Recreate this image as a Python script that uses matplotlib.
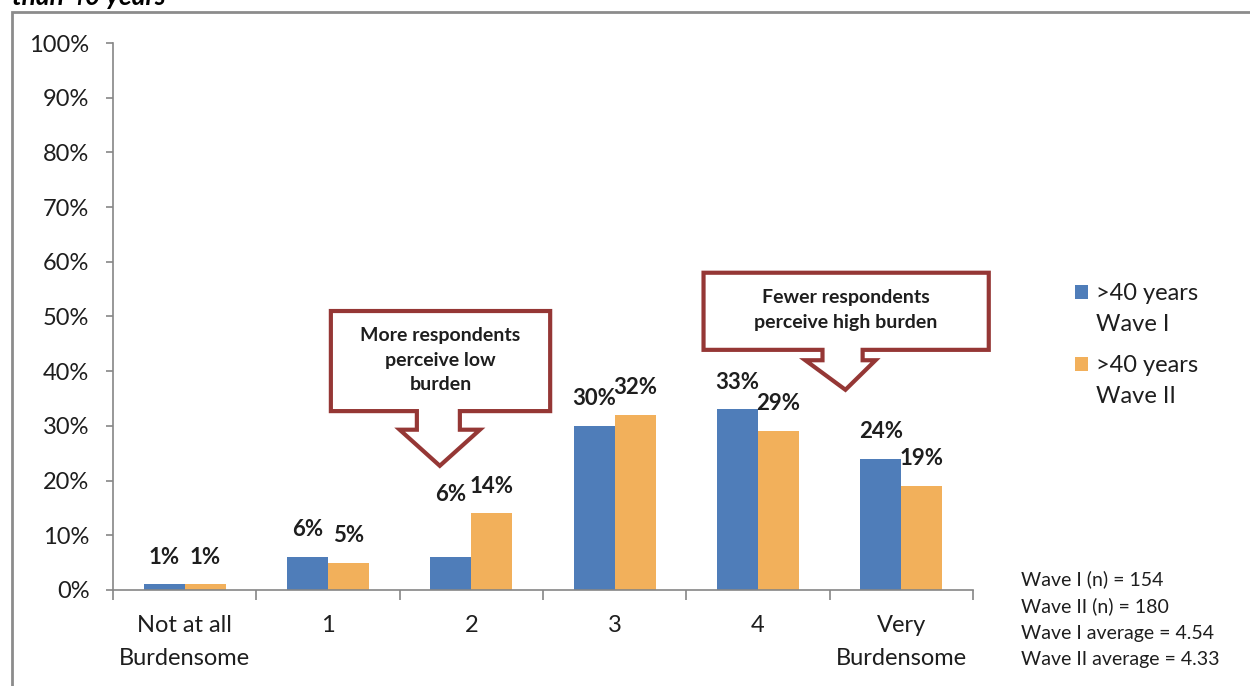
import matplotlib.pyplot as plt
import numpy as np
from matplotlib.patches import Polygon, Rectangle

plt.rcParams['font.family'] = ['Lato', 'DejaVu Sans']

categories = ['Not at all\nBurdensome', '1', '2', '3', '4', 'Very\nBurdensome']
wave1 = [1, 6, 6, 30, 33, 24]
wave2 = [1, 5, 14, 32, 29, 19]
series_names = ['>40 years\nWave I', '>40 years\nWave II']
notes = ['Wave I (n) = 154', 'Wave II (n) = 180',
         'Wave I average = 4.54', 'Wave II average = 4.33']

blue = '#4F7DB9'
orange = '#F2B05B'
callout_red = '#953735'
axis_grey = '#868686'
text_col = '#1E1E1E'

W, H = 1250, 686
fig = plt.figure(figsize=(W / 100, H / 100), dpi=100)
ax = fig.add_axes([0.0904, 0.140, 0.6880, 0.7973])

x = np.arange(len(categories))
w = 0.285
b1 = ax.bar(x - w / 2, wave1, w, color=blue)
b2 = ax.bar(x + w / 2, wave2, w, color=orange)

# the Wave I label over "2" sits higher so it clears the arrow tip
lift = {(0, 2): 6.5}
for k, (bars, vals) in enumerate(((b1, wave1), (b2, wave2))):
    for i, (bar, v) in enumerate(zip(bars, vals)):
        ax.text(bar.get_x() + bar.get_width() / 2, v + 5.0 + lift.get((k, i), 0), f'{v}%',
                ha='center', va='center', fontsize=16, fontweight='bold', color=text_col)

ax.set_xlim(-0.5, len(categories) - 0.5)
ax.set_ylim(0, 100)
ax.set_yticks(np.arange(0, 101, 10))
ax.set_yticklabels([f'{t}%' for t in range(0, 101, 10)], fontsize=17, color=text_col)

# boundaries get the tick marks, centres get the labels
ax.set_xticks(np.arange(-0.5, len(categories), 1.0))
ax.set_xticklabels([])
ax.set_xticks(x, minor=True)
ax.set_xticklabels(categories, minor=True, fontsize=17, color=text_col, linespacing=1.72)
ax.tick_params(axis='x', which='major', length=7, color=axis_grey, width=1.2)
ax.tick_params(axis='x', which='minor', length=0, pad=18)
ax.tick_params(axis='y', length=5, color=axis_grey, width=1.2, pad=12)

for s in ['top', 'right']:
    ax.spines[s].set_visible(False)
for s in ['left', 'bottom']:
    ax.spines[s].set_color(axis_grey)
    ax.spines[s].set_linewidth(1.2)

def callout(x0, x1, y0, y1, sx0, sx1, sy, hx0, hx1, tip):
    pts = [(x0, y1), (x1, y1), (x1, y0), (sx1, y0), (sx1, sy), (hx1, sy),
           tip, (hx0, sy), (sx0, sy), (sx0, y0), (x0, y0)]
    ax.add_patch(Polygon(pts, closed=True, facecolor='white', edgecolor=callout_red,
                         linewidth=3, clip_on=False, zorder=5))

callout(1.02, 2.55, 32.7, 51.0, 1.62, 1.92, 29.3, 1.50, 2.06, (1.78, 22.7))
ax.text(1.785, 42.0, 'More respondents\nperceive low\nburden', ha='center', va='center',
        fontsize=14, fontweight='bold', linespacing=1.55, color=text_col, zorder=6)

callout(3.62, 5.61, 43.9, 58.0, 4.45, 4.73, 42.0, 4.33, 4.82, (4.61, 36.6))
ax.text(4.615, 51.2, 'Fewer respondents\nperceive high burden', ha='center', va='center',
        fontsize=14, fontweight='bold', linespacing=1.55, color=text_col, zorder=6)

# legend: square beside the first line of each two-line entry
for j, (name, col) in enumerate(zip(series_names, [blue, orange])):
    top = 285 + j * 72
    fig.add_artist(Rectangle((1075 / W, 1 - (top + 14) / H), 13 / W, 14 / H,
                             transform=fig.transFigure, facecolor=col, edgecolor='none'))
    fig.text(1096 / W, 1 - (top - 2) / H, name, fontsize=17, color=text_col,
             va='top', ha='left', linespacing=1.57)

for i, line in enumerate(notes):
    fig.text(1021 / W, 1 - (579 + i * 27) / H, line, fontsize=14, color=text_col, va='center')

# outer chart frame and the clipped heading above it
fig.add_artist(Rectangle((12 / W, -0.05), 1.0, 1 - 12 / H + 0.05,
                         transform=fig.transFigure, fill=False,
                         edgecolor='#8C8C8C', linewidth=2))
fig.text(12 / W, 1 - 9 / H, 'than 40 years', fontsize=19, fontweight='bold',
         fontstyle='italic', va='bottom', ha='left')

fig.savefig('out.png', dpi=100)
